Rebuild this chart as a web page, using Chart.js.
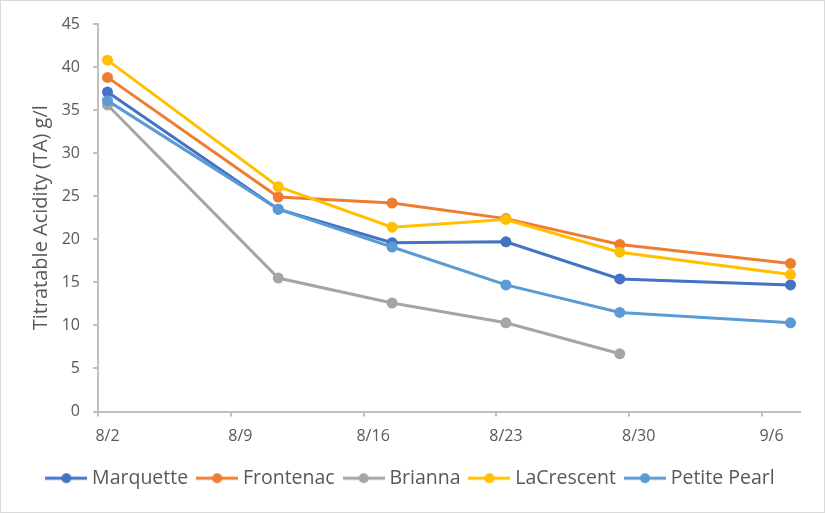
<!DOCTYPE html>
<html>
<head>
<meta charset="utf-8">
<script src="https://cdn.jsdelivr.net/npm/chart.js@4.4.1/dist/chart.umd.min.js"></script>
<style>
  html, body { margin: 0; padding: 0; background: #fff; }
  #wrap { width: 825px; height: 513px; box-sizing: border-box; border: 1px solid #d9d9d9; position: relative; }
  canvas { display: block; }
</style>
</head>
<body>
<div id="wrap"><canvas id="c" width="823" height="511"></canvas></div>
<script>
// Sample days, counted from 8/2
const sampleDays = [0, 9, 15, 21, 27, 36];
const tickLabels = ['8/2', '8/9', '8/16', '8/23', '8/30', '9/6'];
const seriesNames = ['Marquette', 'Frontenac', 'Brianna', 'LaCrescent', 'Petite Pearl'];
const marquette   = [37.1, 23.5, 19.6, 19.7, 15.4, 14.7];
const frontenac   = [38.8, 24.9, 24.2, 22.4, 19.4, 17.2];
const brianna     = [35.6, 15.5, 12.6, 10.3, 6.7];
const lacrescent  = [40.8, 26.1, 21.4, 22.3, 18.5, 15.9];
const petitePearl = [36.1, 23.5, 19.1, 14.7, 11.5, 10.3];
const colors = ['#4472C4', '#ED7D31', '#A5A5A5', '#FFC000', '#5B9BD5'];

const allSeries = [marquette, frontenac, brianna, lacrescent, petitePearl];

function legendIcon(color) {
  const cv = document.createElement('canvas');
  cv.width = 42; cv.height = 12;
  const g = cv.getContext('2d');
  g.strokeStyle = color; g.lineWidth = 3;
  g.beginPath(); g.moveTo(0, 6); g.lineTo(42, 6); g.stroke();
  g.fillStyle = color;
  g.beginPath(); g.arc(21, 6, 5, 0, Math.PI * 2); g.fill();
  return cv;
}

const datasets = allSeries.map((vals, i) => ({
  label: seriesNames[i],
  data: vals.map((v, j) => ({ x: sampleDays[j], y: v })),
  borderColor: colors[i],
  backgroundColor: colors[i],
  borderWidth: 3,
  pointRadius: 5.5,
  pointHoverRadius: 5.5,
  pointBorderWidth: 0,
  tension: 0,
  order: -i
}));

const axisColor = '#bfbfbf';
const textColor = '#595959';

new Chart(document.getElementById('c'), {
  type: 'line',
  data: { datasets },
  options: {
    responsive: false,
    animation: false,
    layout: { padding: { top: 23, right: 24, left: 24, bottom: 14 } },
    plugins: {
      tooltip: { enabled: false },
      legend: {
        position: 'bottom',
        labels: {
          usePointStyle: true,
          pointStyleWidth: 32,
          boxHeight: 12,
          padding: 13,
          color: textColor,
          font: { family: 'Open Sans', size: 19.5 },
          sort: (a, b) => a.datasetIndex - b.datasetIndex,
          generateLabels: (chart) => chart.data.datasets.map((ds, i) => ({
            text: ds.label,
            pointStyle: legendIcon(colors[i]),
            fillStyle: colors[i],
            strokeStyle: colors[i],
            lineWidth: 0,
            fontColor: textColor,
            datasetIndex: i,
            hidden: false
          }))
        }
      }
    },
    scales: {
      x: {
        type: 'linear',
        min: -0.5,
        max: 36.5,
        afterBuildTicks: (axis) => {
          axis.ticks = tickLabels.map((l, i) => ({ value: i * 7 - 0.5 }));
        },
        afterFit: (axis) => { axis.height = 44; },
        ticks: {
          autoSkip: false,
          maxRotation: 0,
          padding: 10,
          labelOffset: 9.5,
          color: textColor,
          font: { family: 'Open Sans', size: 16 },
          callback: (v, idx) => tickLabels[idx]
        },
        grid: { display: true, drawOnChartArea: false, color: axisColor, tickLength: 5, lineWidth: 2 },
        border: { display: true, color: axisColor, width: 2 }
      },
      y: {
        min: 0,
        max: 45,
        afterFit: (axis) => { axis.width = 73; },
        ticks: {
          stepSize: 5,
          padding: 13,
          color: textColor,
          font: { family: 'Open Sans', size: 16 }
        },
        title: {
          display: true,
          text: 'Titratable Acidity (TA) g/l',
          color: textColor,
          font: { family: 'Open Sans', size: 20 },
          padding: { top: 4, bottom: 0 }
        },
        grid: { display: true, drawOnChartArea: false, color: axisColor, tickLength: 5, lineWidth: 2 },
        border: { display: true, color: axisColor, width: 2 }
      }
    }
  }
});
</script>
</body>
</html>
